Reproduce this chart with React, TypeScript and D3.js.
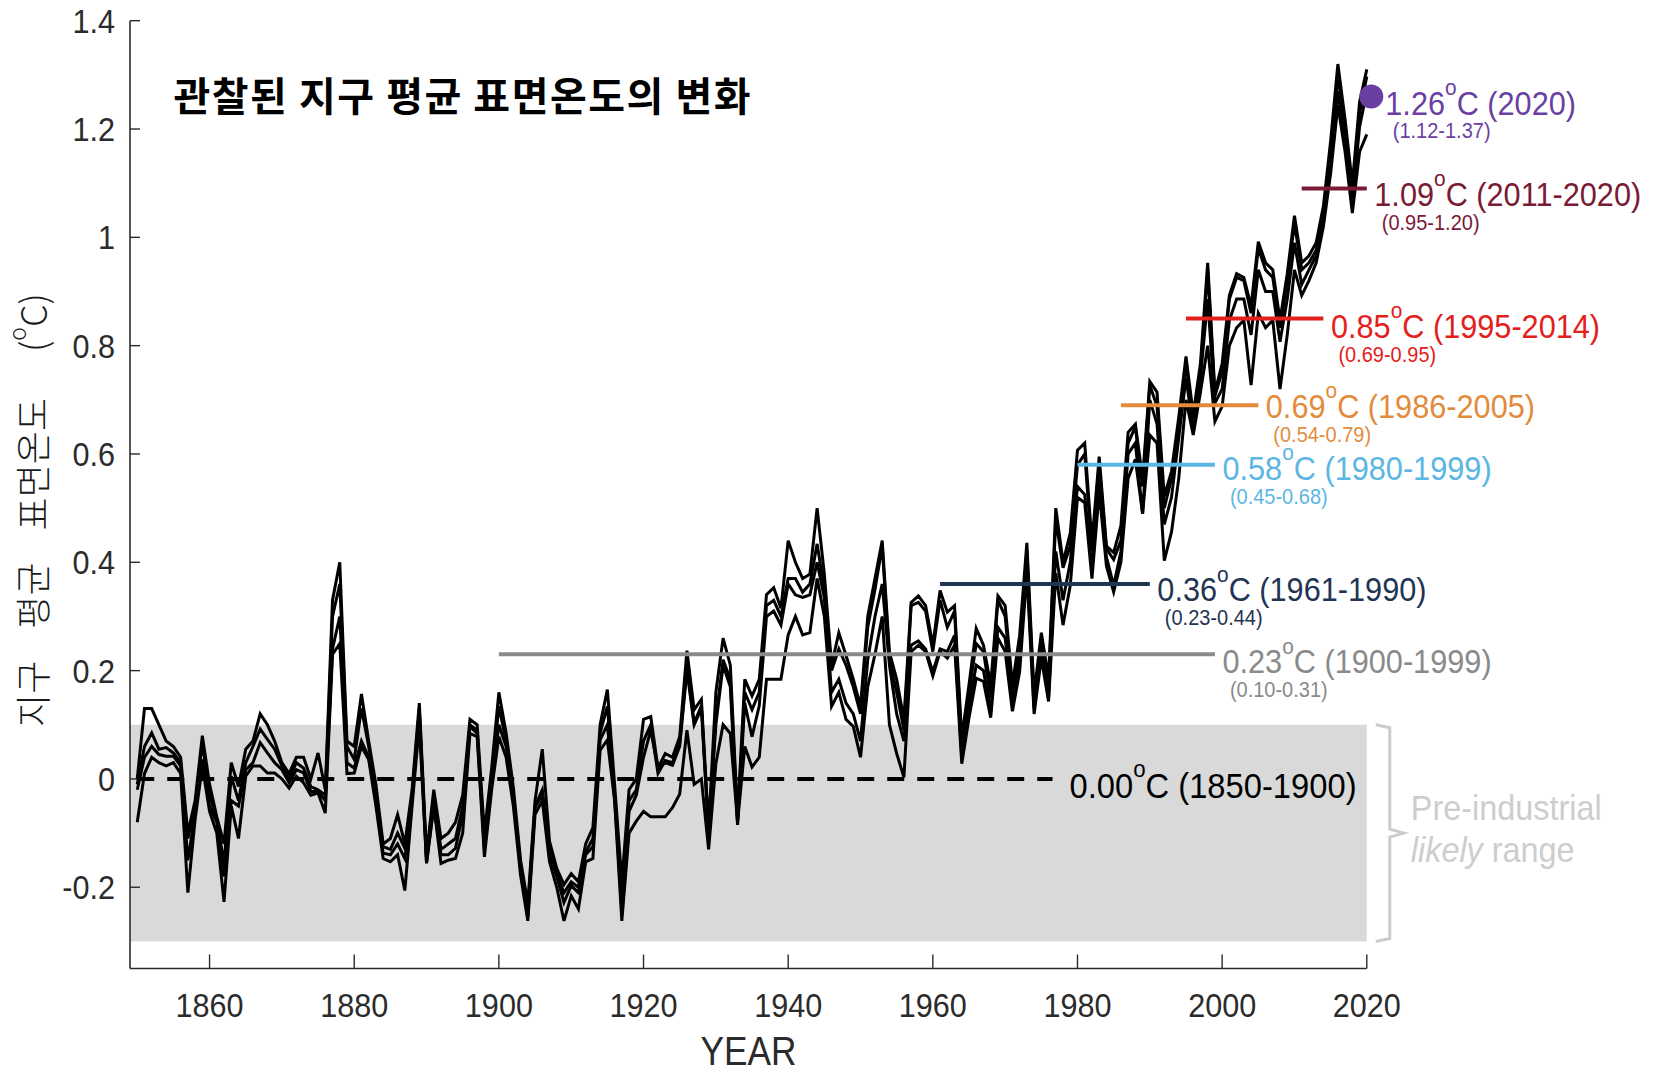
import React, { useEffect, useRef } from 'react';
import * as d3 from 'd3';

const WIDTH = 1657;
const HEIGHT = 1069;

// years of the record
const years = d3.range(1850, 2021);

const seriesA = [
  0.00, 0.13, 0.13, 0.10, 0.07, 0.06, 0.04, -0.10, -0.04, 0.08,
  -0.01, -0.07, -0.12, 0.03, -0.014, 0.055, 0.07, 0.12, 0.10, 0.07,
  0.03, 0.01, 0.04, 0.04, 0.00, 0.048, -0.02, 0.33, 0.40, 0.07,
  0.06, 0.157, 0.07, -0.01, -0.12, -0.11, -0.066, -0.12, -0.02, 0.14,
  -0.14, -0.02, -0.11, -0.10, -0.08, -0.03, 0.11, 0.10, -0.10, 0.02,
  0.16, 0.085, -0.015, -0.15, -0.23, -0.04, 0.055, -0.115, -0.165, -0.195,
  -0.175, -0.19, -0.12, -0.09, 0.10, 0.165, -0.01, -0.19, -0.02, 0.00,
  0.11, 0.115, 0.02, 0.047, 0.04, 0.078, 0.237, 0.128, 0.147, -0.09,
  0.16, 0.26, 0.21, -0.07, 0.184, 0.153, 0.184, 0.34, 0.353, 0.315,
  0.44, 0.40, 0.37, 0.378, 0.50, 0.378, 0.21, 0.27, 0.228, 0.184,
  0.134, 0.30, 0.37, 0.44, 0.234, 0.184, 0.11, 0.326, 0.338, 0.32,
  0.247, 0.348, 0.308, 0.32, 0.076, 0.174, 0.278, 0.247, 0.174, 0.338,
  0.32, 0.174, 0.265, 0.436, 0.156, 0.27, 0.186, 0.50, 0.40, 0.454,
  0.607, 0.62, 0.436, 0.595, 0.43, 0.418, 0.467, 0.64, 0.655, 0.555,
  0.734, 0.714, 0.522, 0.568, 0.668, 0.78, 0.674, 0.767, 0.953, 0.714,
  0.767, 0.893, 0.933, 0.926, 0.873, 0.992, 0.953, 0.94, 0.847, 0.933,
  1.04, 0.953, 0.966, 0.99, 1.058, 1.178, 1.32, 1.217, 1.098, 1.25,
  1.31,
];

const seriesB = [
  -0.01, 0.06, 0.085, 0.055, 0.058, 0.048, 0.03, -0.11, -0.05, 0.067,
  -0.03, -0.075, -0.156, 0.005, -0.04, 0.03, 0.06, 0.092, 0.073, 0.055,
  0.024, 0.00, 0.03, 0.02, -0.014, -0.02, -0.03, 0.30, 0.36, 0.06,
  0.036, 0.13, 0.06, -0.03, -0.125, -0.13, -0.10, -0.128, -0.03, 0.13,
  -0.15, -0.03, -0.13, -0.12, -0.11, -0.05, 0.10, 0.09, -0.12, 0.00,
  0.134, 0.07, -0.03, -0.16, -0.245, -0.05, -0.02, -0.13, -0.175, -0.21,
  -0.19, -0.20, -0.135, -0.11, 0.085, 0.134, -0.03, -0.22, -0.04, -0.02,
  0.07, 0.10, 0.01, 0.034, 0.03, 0.066, 0.21, 0.103, 0.135, -0.097,
  0.11, 0.22, 0.184, -0.078, 0.16, 0.128, 0.16, 0.32, 0.33, 0.30,
  0.37, 0.37, 0.345, 0.36, 0.434, 0.35, 0.20, 0.24, 0.21, 0.17,
  0.12, 0.28, 0.35, 0.43, 0.22, 0.16, 0.09, 0.32, 0.326, 0.31,
  0.235, 0.33, 0.28, 0.31, 0.058, 0.16, 0.25, 0.235, 0.15, 0.33,
  0.30, 0.155, 0.245, 0.42, 0.145, 0.25, 0.175, 0.48, 0.39, 0.43,
  0.58, 0.60, 0.42, 0.58, 0.425, 0.405, 0.44, 0.62, 0.65, 0.54,
  0.727, 0.688, 0.50, 0.555, 0.655, 0.767, 0.66, 0.753, 0.94, 0.707,
  0.753, 0.886, 0.926, 0.92, 0.86, 0.98, 0.94, 0.926, 0.833, 0.92,
  1.026, 0.94, 0.953, 0.976, 1.045, 1.158, 1.30, 1.197, 1.085, 1.23,
  1.297,
];

const seriesC = [
  -0.02, 0.04, 0.06, 0.045, 0.042, 0.042, 0.024, -0.15, -0.063, 0.036,
  -0.05, -0.08, -0.18, -0.04, -0.05, 0.017, 0.03, 0.067, 0.048, 0.03,
  0.017, -0.007, 0.017, 0.011, -0.023, -0.023, -0.04, 0.24, 0.30, 0.03,
  0.02, 0.07, 0.04, -0.04, -0.137, -0.14, -0.12, -0.147, -0.04, 0.12,
  -0.155, -0.05, -0.14, -0.14, -0.128, -0.066, 0.097, 0.084, -0.13, -0.01,
  0.10, 0.06, -0.04, -0.166, -0.255, -0.053, -0.028, -0.14, -0.18, -0.228,
  -0.197, -0.21, -0.14, -0.125, 0.072, 0.10, -0.035, -0.24, -0.06, -0.03,
  0.04, 0.09, 0.02, 0.03, 0.025, 0.06, 0.20, 0.10, 0.13, -0.10,
  0.10, 0.21, 0.17, -0.085, 0.14, 0.078, 0.135, 0.30, 0.31, 0.284,
  0.36, 0.34, 0.335, 0.34, 0.40, 0.334, 0.16, 0.184, 0.14, 0.12,
  0.07, 0.22, 0.30, 0.36, 0.21, 0.12, 0.07, 0.247, 0.255, 0.24,
  0.198, 0.24, 0.235, 0.265, 0.04, 0.137, 0.21, 0.20, 0.125, 0.28,
  0.26, 0.14, 0.22, 0.40, 0.13, 0.235, 0.15, 0.42, 0.33, 0.40,
  0.54, 0.525, 0.385, 0.545, 0.41, 0.357, 0.42, 0.60, 0.62, 0.49,
  0.70, 0.655, 0.47, 0.52, 0.63, 0.74, 0.648, 0.74, 0.886, 0.694,
  0.72, 0.847, 0.886, 0.886, 0.82, 0.94, 0.90, 0.90, 0.807, 0.886,
  0.99, 0.913, 0.94, 0.966, 1.032, 1.138, 1.27, 1.178, 1.065, 1.204,
  1.27,
];

const seriesD = [
  -0.08, 0.01, 0.04, 0.03, 0.024, 0.03, 0.01, -0.21, -0.075, 0.024,
  -0.06, -0.10, -0.227, -0.05, -0.11, 0.005, 0.024, 0.024, 0.011, 0.011,
  0.00, -0.017, 0.005, -0.007, -0.03, -0.026, -0.063, 0.23, 0.25, 0.01,
  0.011, 0.06, 0.036, -0.05, -0.147, -0.153, -0.14, -0.206, -0.05, 0.10,
  -0.156, -0.05, -0.156, -0.15, -0.147, -0.10, 0.084, 0.078, -0.144, -0.02,
  0.078, 0.04, -0.05, -0.178, -0.262, -0.066, -0.04, -0.153, -0.20, -0.262,
  -0.216, -0.24, -0.153, -0.147, 0.053, 0.072, -0.04, -0.262, -0.10, -0.078,
  -0.06, -0.07, -0.07, -0.07, -0.053, -0.028, 0.09, -0.01, 0.00, -0.13,
  0.028, 0.10, 0.084, -0.08, 0.06, 0.022, 0.04, 0.184, 0.184, 0.184,
  0.266, 0.30, 0.266, 0.27, 0.37, 0.30, 0.134, 0.16, 0.11, 0.097,
  0.04, 0.17, 0.23, 0.30, 0.10, 0.047, 0.003, 0.235, 0.247, 0.235,
  0.19, 0.235, 0.223, 0.247, 0.028, 0.113, 0.186, 0.18, 0.113, 0.26,
  0.235, 0.125, 0.198, 0.38, 0.12, 0.223, 0.143, 0.38, 0.284, 0.357,
  0.52, 0.51, 0.37, 0.53, 0.393, 0.345, 0.40, 0.555, 0.59, 0.49,
  0.635, 0.62, 0.403, 0.456, 0.555, 0.70, 0.635, 0.714, 0.80, 0.66,
  0.688, 0.80, 0.833, 0.847, 0.727, 0.86, 0.833, 0.847, 0.72, 0.82,
  0.94, 0.893, 0.92, 0.953, 1.02, 1.118, 1.244, 1.158, 1.045, 1.158,
  1.19,
];

// reference-period means
const periodValues = [0.23, 0.36, 0.58, 0.69, 0.85, 1.09];
const periodStart = [1900, 1961, 1980, 1986, 1995, 2011];
const periodEnd = [1999, 1990, 1999, 2005, 2014, 2020];
const periodRanges = ['(0.10-0.31)', '(0.23-0.44)', '(0.45-0.68)', '(0.54-0.79)', '(0.69-0.95)', '(0.95-1.20)'];

const latestYear = 2020;
const latestValue = 1.26;
const latestRange = '(1.12-1.37)';

const baselineValue = 0;
const baselineStart = 1850;
const baselineEnd = 1900;

const likelyRange = [-0.3, 0.1];

const xTicks = [1860, 1880, 1900, 1920, 1940, 1960, 1980, 2000, 2020];
const yTicks = [-0.2, 0, 0.2, 0.4, 0.6, 0.8, 1, 1.2, 1.4];

// styling
const periodColors = ['#8a8a8a', '#1f3553', '#5cb6e3', '#e38b3c', '#e2211c', '#7a1b36'];
const periodLabelDy = [19, 17.5, 15, 13, 19, 17.5];
const latestColor = '#6b3fa2';
const LATIN = "'Liberation Sans', Arial, Helvetica, sans-serif";
const KOREAN = "'Noto Sans CJK KR', 'Noto Sans CJK SC', sans-serif";
const COND = 0.9;

export default function App() {
  const svgRef = useRef<SVGSVGElement>(null);

  useEffect(() => {
    if (!svgRef.current) return;
    const svg = d3.select(svgRef.current);
    svg.selectAll('*').remove();

    const x = d3.scaleLinear().domain([1849, 2020]).range([130, 1366.8]);
    const y = d3.scaleLinear().domain([-0.35, 1.4]).range([968.5, 20.7]);

    svg.append('rect').attr('width', WIDTH).attr('height', HEIGHT).attr('fill', '#fff');

    // pre-industrial likely range band
    svg.append('rect')
      .attr('x', x(1849))
      .attr('y', y(likelyRange[1]))
      .attr('width', x(2020) - x(1849))
      .attr('height', y(likelyRange[0]) - y(likelyRange[1]))
      .attr('fill', '#d9d9d9');

    // condensed text helper
    const condText = (px: number, py: number, txt: string, size: number, color: string, anchor = 'start', sx = COND) =>
      svg.append('text')
        .attr('transform', `translate(${px},${py}) scale(${sx},1)`)
        .attr('font-family', LATIN)
        .attr('font-size', size)
        .attr('fill', color)
        .attr('text-anchor', anchor)
        .text(txt);

    const degreeLabel = (px: number, py: number, value: string, tail: string, size: number, color: string, sx = 0.93) => {
      const t = svg.append('text')
        .attr('transform', `translate(${px},${py}) scale(${sx},1)`)
        .attr('font-family', LATIN)
        .attr('font-size', size)
        .attr('fill', color);
      t.append('tspan').text(value);
      t.append('tspan').attr('font-size', size * 0.68).attr('dy', -size * 0.6).text('o');
      t.append('tspan').attr('dy', size * 0.6).text(`C ${tail}`);
    };

    // axes
    const axisColor = '#2b2b2b';
    svg.append('line')
      .attr('x1', x(1849)).attr('x2', x(1849))
      .attr('y1', y(1.4)).attr('y2', y(-0.35))
      .attr('stroke', axisColor).attr('stroke-width', 1.6);
    svg.append('line')
      .attr('x1', x(1849)).attr('x2', x(2020))
      .attr('y1', y(-0.35)).attr('y2', y(-0.35))
      .attr('stroke', axisColor).attr('stroke-width', 1.6);

    yTicks.forEach((v) => {
      svg.append('line')
        .attr('x1', x(1849)).attr('x2', x(1849) + 10)
        .attr('y1', y(v)).attr('y2', y(v))
        .attr('stroke', axisColor).attr('stroke-width', 1.4);
      condText(115, y(v) + 12, String(+v.toFixed(1)), 34, axisColor, 'end');
    });

    xTicks.forEach((yr) => {
      svg.append('line')
        .attr('x1', x(yr)).attr('x2', x(yr))
        .attr('y1', y(-0.35)).attr('y2', y(-0.35) - 14)
        .attr('stroke', axisColor).attr('stroke-width', 1.4);
      condText(x(yr), 1017, String(yr), 34, axisColor, 'middle');
    });

    svg.append('text')
      .attr('transform', `translate(${(x(1849) + x(2020)) / 2},1065) scale(0.88,1)`)
      .attr('font-family', LATIN)
      .attr('font-size', 40)
      .attr('fill', axisColor)
      .attr('text-anchor', 'middle')
      .text('YEAR');

    // y axis title (rotated)
    const yTitle = svg.append('text')
      .attr('transform', 'translate(47,510) rotate(-90)')
      .attr('font-family', KOREAN)
      .attr('font-weight', 300)
      .attr('font-size', 36)
      .attr('fill', '#1a1a1a')
      .attr('text-anchor', 'middle');
    yTitle.append('tspan').text('지구');
    yTitle.append('tspan').attr('dx', 32).text('평균');
    yTitle.append('tspan').attr('dx', 32).text('표면온도');
    yTitle.append('tspan').attr('dx', 46).text('(');
    yTitle.append('tspan').attr('font-size', 23).attr('dy', -21).text('o');
    yTitle.append('tspan').attr('dy', 21).text('C)');

    // title
    svg.append('text')
      .attr('x', 173.5)
      .attr('y', 111)
      .attr('font-family', KOREAN)
      .attr('font-weight', 700)
      .attr('font-size', 40)
      .attr('letter-spacing', 1.5)
      .attr('fill', '#000')
      .text('관찰된 지구 평균 표면온도의 변화');

    // observed datasets
    const line = d3.line<number>()
      .x((_, i) => x(years[i]))
      .y((d) => y(d));

    [seriesA, seriesB, seriesC, seriesD].forEach((s) => {
      svg.append('path')
        .attr('d', line(s))
        .attr('fill', 'none')
        .attr('stroke', '#000')
        .attr('stroke-width', 3)
        .attr('stroke-linejoin', 'miter')
        .attr('stroke-miterlimit', 4);
    });

    // 1850-1900 baseline (dashed)
    svg.append('line')
      .attr('x1', x(baselineStart)).attr('x2', 1052.5)
      .attr('y1', y(baselineValue)).attr('y2', y(baselineValue))
      .attr('stroke', '#000')
      .attr('stroke-width', 4)
      .attr('stroke-dasharray', '17 13');
    degreeLabel(1069.5, y(baselineValue) + 19, baselineValue.toFixed(2), `(${baselineStart}-${baselineEnd})`, 35, '#000', 0.935);

    // reference period means
    periodValues.forEach((v, i) => {
      svg.append('line')
        .attr('x1', x(periodStart[i])).attr('x2', x(periodEnd[i]))
        .attr('y1', y(v)).attr('y2', y(v))
        .attr('stroke', periodColors[i])
        .attr('stroke-width', 4);
      const lx = x(periodEnd[i]) + 7.5;
      const ly = y(v) + periodLabelDy[i];
      degreeLabel(lx, ly, v.toFixed(2), `(${periodStart[i]}-${periodEnd[i]})`, 33, periodColors[i]);
      condText(lx + 7.5, ly + 24, periodRanges[i], 21.5, periodColors[i], 'start', 0.93);
    });

    // latest year
    const cx = x(latestYear) + 4.5;
    const cy = y(latestValue);
    svg.append('circle').attr('cx', cx).attr('cy', cy).attr('r', 12).attr('fill', latestColor);
    degreeLabel(cx + 14, cy + 18.6, latestValue.toFixed(2), `(${latestYear})`, 33, latestColor);
    condText(cx + 21.5, cy + 41.6, latestRange, 21.5, latestColor, 'start', 0.93);

    // bracket for the likely range
    const bx = x(2020) + 23;
    const bTop = y(likelyRange[1]);
    const bBot = y(likelyRange[0]);
    const bMid = y((likelyRange[0] + likelyRange[1]) / 2);
    svg.append('path')
      .attr('d', `M${bx - 14},${bTop} L${bx},${bTop + 3} L${bx},${bMid - 4} L${bx + 14},${bMid} L${bx},${bMid + 4} L${bx},${bBot - 3} L${bx - 14},${bBot}`)
      .attr('fill', 'none')
      .attr('stroke', '#cccccc')
      .attr('stroke-width', 3);

    condText(bx + 21, bMid - 13.5, 'Pre-industrial', 36, '#cdcdcd');
    const lr = svg.append('text')
      .attr('transform', `translate(${bx + 21},${bMid + 28.5}) scale(${COND},1)`)
      .attr('font-family', LATIN)
      .attr('font-size', 36)
      .attr('fill', '#cdcdcd');
    lr.append('tspan').attr('font-style', 'italic').text('likely');
    lr.append('tspan').text(' range');
  }, []);

  return (
    <svg
      ref={svgRef}
      width={WIDTH}
      height={HEIGHT}
      style={{ position: 'absolute', left: 0, top: 0, background: '#fff' }}
    />
  );
}
